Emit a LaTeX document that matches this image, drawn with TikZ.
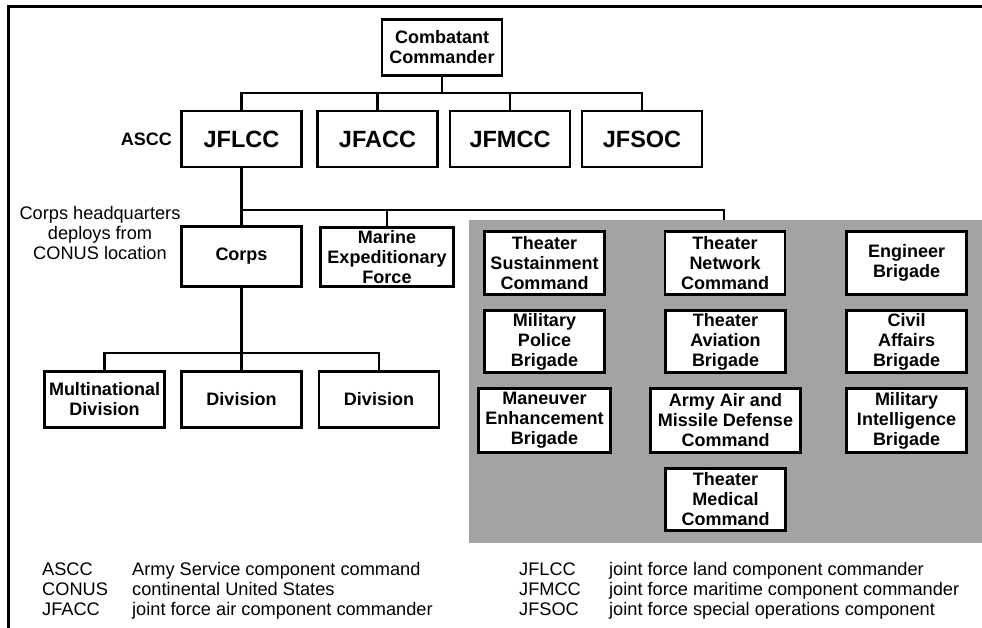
\documentclass[tikz,border=0pt]{standalone}
\usepackage{fontspec}
\setmainfont{Liberation Sans}
\definecolor{panel}{RGB}{163,163,163}
\begin{document}
\begin{tikzpicture}[x=1pt,y=-1pt,
  box/.style={draw=black,line width=2.6pt,fill=white,align=center,
    font=\bfseries\fontsize{18}{20}\selectfont,inner sep=0pt,
    minimum width=120pt,minimum height=56pt},
  big/.style={font=\bfseries\fontsize{23.5}{25}\selectfont},
  conn/.style={line width=2.2pt},
  lbl/.style={font=\fontsize{18.2}{20}\selectfont,inner sep=0pt}]
\useasboundingbox (0,0) rectangle (982,628);
\fill[white] (0,0) rectangle (982,628);
% frame
\draw[line width=3pt] (8.5,628) -- (8.5,7) -- (982,7);
% gray panel
\node[fill=panel,draw=none,inner sep=0pt,minimum width=513pt,minimum height=323pt] (grp) at (725.5,381.5) {};
% top levels
\node[box] (cc) at (442,47.5) {Combatant\\Commander};
\node[box,big] (jflcc) at (241.5,139) {JFLCC};
\node[box,big] (jfacc) at (377.5,139) {JFACC};
\node[box,big] (jfmcc) at (510,139) {JFMCC};
\node[box,big] (jfsoc) at (642,139) {JFSOC};
\node[font=\bfseries\fontsize{18}{20}\selectfont,anchor=east,inner sep=0pt] (ascc) at (172,139) {ASCC};
% corps level
\node[box,minimum height=60pt] (corps) at (241.5,256.5) {Corps};
\node[box,minimum width=133pt,minimum height=59pt] (marine) at (387,257) {Marine\\Expeditionary\\Force};
\node[lbl,align=center] (note) at (100,233) {Corps headquarters\\deploys from\\CONUS location};
% divisions
\node[box] (mnd) at (104.5,399.5) {Multinational\\Division};
\node[box] (div1) at (241.5,399.5) {Division};
\node[box] (div2) at (379,399.5) {Division};
% gray panel boxes
\node[box,minimum height=63pt] (tsc) at (544.5,263) {Theater\\Sustainment\\Command};
\node[box,minimum height=63pt] (tnc) at (725,263) {Theater\\Network\\Command};
\node[box,minimum height=63pt] (eng) at (906.5,263) {Engineer\\Brigade};
\node[box,minimum height=62pt] (mp) at (544.5,341.5) {Military\\Police\\Brigade};
\node[box,minimum height=62pt] (tab) at (725.5,341.5) {Theater\\Aviation\\Brigade};
\node[box,minimum height=62pt] (ca) at (906.5,341.5) {Civil\\Affairs\\Brigade};
\node[box,minimum width=132pt,minimum height=64pt] (meb) at (544.5,420.5) {Maneuver\\Enhancement\\Brigade};
\node[box,minimum width=150pt,minimum height=64pt] (aamdc) at (725.5,420.5) {Army Air and\\Missile Defense\\Command};
\node[box,minimum height=64pt] (mi) at (906.5,420.5) {Military\\Intelligence\\Brigade};
\node[box,minimum height=62pt] (tmc) at (725.5,499.5) {Theater\\Medical\\Command};
% connectors
\coordinate (bus1) at (442,93);
\coordinate (bus2) at (241.5,210);
\coordinate (gtop) at (724,220);
\coordinate (bus3) at (241.5,353);
\draw[conn] (cc.south) -- (bus1);
\draw[conn] (jflcc.north) |- (bus1 -| jfsoc.north) -- (jfsoc.north);
\draw[conn] (jfacc.north) -- (jfacc.north |- bus1);
\draw[conn] (jfmcc.north) -- (jfmcc.north |- bus1);
\draw[conn] (jflcc.south) -- (corps.north);
\draw[conn] (bus2) -| (gtop);
\draw[conn] (marine.north) -- (marine.north |- bus2);
\draw[conn] (corps.south) -- (div1.north);
\draw[conn] (mnd.north) |- (bus3) -| (div2.north);
% legend
\node[lbl,anchor=base west] (a1) at (42,575) {ASCC};
\node[lbl,anchor=base west] (a2) at (42,595) {CONUS};
\node[lbl,anchor=base west] (a3) at (42,615) {JFACC};
\node[lbl,anchor=base west] (d1) at (132,575) {Army Service component command};
\node[lbl,anchor=base west] (d2) at (132,595) {continental United States};
\node[lbl,anchor=base west] (d3) at (132,615) {joint force air component commander};
\node[lbl,anchor=base west] (a4) at (519,575) {JFLCC};
\node[lbl,anchor=base west] (a5) at (519,595) {JFMCC};
\node[lbl,anchor=base west] (a6) at (519,615) {JFSOC};
\node[lbl,anchor=base west] (d4) at (609,575) {joint force land component commander};
\node[lbl,anchor=base west] (d5) at (609,595) {joint force maritime component commander};
\node[lbl,anchor=base west] (d6) at (609,615) {joint force special operations component};
\end{tikzpicture}
\end{document}
